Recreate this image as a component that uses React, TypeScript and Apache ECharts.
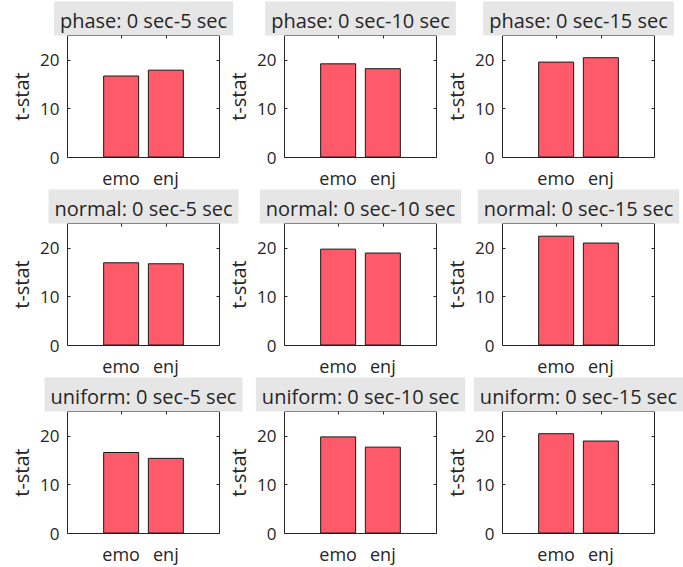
import React, { useEffect, useRef } from "react";
import * as echarts from "echarts";

const panelTitles = [
  "phase: 0 sec-5 sec", "phase: 0 sec-10 sec", "phase: 0 sec-15 sec",
  "normal: 0 sec-5 sec", "normal: 0 sec-10 sec", "normal: 0 sec-15 sec",
  "uniform: 0 sec-5 sec", "uniform: 0 sec-10 sec", "uniform: 0 sec-15 sec",
];
const categories = ["emo", "enj"];
const categoryPositions = [1, 2];
const emoValues = [16.8, 19.3, 19.65, 17.05, 19.85, 22.5, 16.7, 19.9, 20.55];
const enjValues = [18.0, 18.3, 20.55, 16.85, 19.05, 21.1, 15.5, 17.8, 19.05];
const yTicks = [0, 10, 20];
const yMax = 25;
const xMin = -0.2;
const xMax = 3.2;
const yLabel = "t-stat";

const FONT = '"Open Sans", "Noto Sans", sans-serif';
const INK = "#262626";

export default function App() {
  const ref = useRef<HTMLDivElement>(null);
  useEffect(() => {
    if (!ref.current) return;
    const chart = echarts.init(ref.current, null, { renderer: "svg" });
    const lefts = [67.5, 284.5, 502.5];
    const tops = [35.5, 223.5, 411.5];
    const w = 152;
    const h = 122;
    const grids: any[] = [];
    const xAxes: any[] = [];
    const yAxes: any[] = [];
    const series: any[] = [];
    const graphics: any[] = [];
    for (let i = 0; i < 9; i++) {
      const c = i % 3;
      const r = Math.floor(i / 3);
      grids.push({
        left: lefts[c], top: tops[r], width: w, height: h,
        show: true, borderColor: INK, borderWidth: 1, backgroundColor: "#fff",
        containLabel: false,
      });
      const xBase = {
        type: "value", gridIndex: i, min: xMin, max: xMax,
        splitLine: { show: false }, axisLine: { show: false, onZero: false },
      };
      xAxes.push({
        ...xBase, position: "bottom",
        axisTick: { show: true, inside: true, length: 3, customValues: categoryPositions, lineStyle: { color: INK } },
        axisLabel: {
          show: true, customValues: categoryPositions, margin: 11,
          color: INK, fontSize: 18, fontFamily: FONT,
          formatter: (v: number) => categories[categoryPositions.indexOf(v)] ?? "",
        },
      });
      xAxes.push({
        ...xBase, position: "top",
        axisTick: { show: true, inside: true, length: 3, customValues: categoryPositions, lineStyle: { color: INK } },
        axisLabel: { show: false },
      });
      const yBase = {
        type: "value", gridIndex: i, min: 0, max: yMax,
        splitLine: { show: false }, axisLine: { show: false, onZero: false },
      };
      yAxes.push({
        ...yBase, position: "left",
        name: yLabel, nameLocation: "middle", nameGap: 36,
        nameTextStyle: { color: INK, fontSize: 20, fontFamily: FONT },
        axisTick: { show: true, inside: true, length: 3, customValues: yTicks, lineStyle: { color: INK } },
        axisLabel: {
          show: true, customValues: yTicks, margin: 8,
          color: INK, fontSize: 17, fontFamily: FONT,
        },
      });
      yAxes.push({
        ...yBase, position: "right",
        axisTick: { show: true, inside: true, length: 3, customValues: yTicks, lineStyle: { color: INK } },
        axisLabel: { show: false },
      });
      series.push({
        type: "bar",
        xAxisIndex: i * 2,
        yAxisIndex: i * 2,
        barWidth: 36,
        data: [
          [categoryPositions[0], emoValues[i]],
          [categoryPositions[1], enjValues[i]],
        ],
        itemStyle: { color: "#ff5a69", borderColor: "#1a1a1a", borderWidth: 1 },
      });
      graphics.push({
        type: "text",
        x: lefts[c] + w / 2,
        y: tops[r] - 34,
        style: {
          text: panelTitles[i],
          font: `20px ${FONT}`,
          fill: INK,
          align: "center",
          verticalAlign: "top",
          backgroundColor: "#e6e6e6",
          padding: [6, 6, 2, 6],
          lineHeight: 26,
        },
      });
    }
    chart.setOption({
      animation: false,
      backgroundColor: "#fff",
      grid: grids,
      xAxis: xAxes,
      yAxis: yAxes,
      series,
      graphic: graphics,
    });
    return () => chart.dispose();
  }, []);
  return (
    <div
      ref={ref}
      style={{ position: "fixed", left: 0, top: 0, width: 683, height: 567 }}
    />
  );
}
